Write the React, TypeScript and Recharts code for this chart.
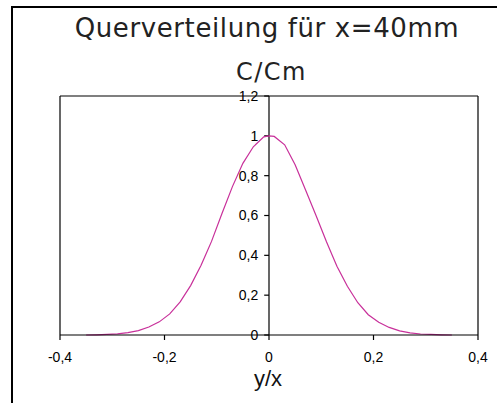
import React from 'react';
import { LineChart, Line, XAxis, YAxis, ReferenceLine } from 'recharts';

const xValues = [-0.35, -0.33, -0.31, -0.29, -0.27, -0.25, -0.23, -0.21, -0.19, -0.17, -0.15, -0.13, -0.11, -0.09, -0.07, -0.05, -0.03, -0.01, 0, 0.01, 0.03, 0.05, 0.07, 0.09, 0.11, 0.13, 0.15, 0.17, 0.19, 0.21, 0.23, 0.25, 0.27, 0.29, 0.31, 0.33, 0.35];
const cValues = [0, 0.001, 0.003, 0.006, 0.012, 0.022, 0.04, 0.066, 0.106, 0.166, 0.248, 0.35, 0.47, 0.61, 0.745, 0.862, 0.945, 0.995, 1.0, 0.997, 0.955, 0.855, 0.728, 0.6, 0.468, 0.345, 0.245, 0.162, 0.102, 0.064, 0.038, 0.021, 0.011, 0.005, 0.003, 0.001, 0];
const xTicks = [-0.4, -0.2, 0, 0.2, 0.4];
const yTicks = [0, 0.2, 0.4, 0.6, 0.8, 1, 1.2];
const titleText = 'Querverteilung für x=40mm';
const yLabelText = 'C/Cm';
const xLabelText = 'y/x';

const data = xValues.map((x, i) => ({ x, c: cValues[i] }));
const fmt = (v: number) => String(v).replace('.', ',');
const tickFont = "'Liberation Sans', Arial, sans-serif";
const titleFont = "'DejaVu Sans', sans-serif";
const TICK_LEN = 0.0092;

export default function App() {
  return (
    <div style={{ position: 'absolute', left: 0, top: 0, width: 497, height: 403, background: '#fff' }}>
      <div style={{ position: 'absolute', left: 11, top: 6, width: 486, height: 397, borderLeft: '2px solid #000', borderTop: '2px solid #000', boxSizing: 'border-box' }} />
      <div style={{ position: 'absolute', left: 0, width: 534, top: 11, textAlign: 'center', fontFamily: titleFont, fontWeight: 400, fontSize: 26, letterSpacing: 0.6, lineHeight: '34px', color: '#222' }}>{titleText}</div>
      <div style={{ position: 'absolute', left: 0, width: 543, top: 57, textAlign: 'center', fontFamily: titleFont, fontWeight: 400, fontSize: 24, letterSpacing: 1.5, lineHeight: '30px', color: '#222' }}>{yLabelText}</div>
      <div style={{ position: 'absolute', left: 0, width: 536, top: 368, textAlign: 'center', fontFamily: tickFont, fontSize: 22, lineHeight: '22px', color: '#111' }}>{xLabelText}</div>
      <div style={{ position: 'absolute', left: 0, top: 0 }}>
        <LineChart width={497} height={403} data={data} margin={{ top: 96, right: 19, left: 60, bottom: 38 }}>
          <XAxis
            dataKey="x"
            type="number"
            domain={[-0.4, 0.4]}
            ticks={xTicks}
            tickFormatter={fmt}
            height={30}
            axisLine={{ stroke: '#000', strokeWidth: 1.2 }}
            tickLine={{ stroke: '#000', strokeWidth: 1.2 }}
            tickSize={5}
            tickMargin={12}
            tick={{ fill: '#000', fontSize: 14, fontFamily: tickFont }}
            interval={0}
          />
          <YAxis type="number" domain={[0, 1.2]} ticks={yTicks} hide width={0} />
          <ReferenceLine y={1.2} stroke="#000" strokeWidth={1.2} />
          <ReferenceLine x={-0.4} stroke="#000" strokeWidth={1.2} />
          <ReferenceLine x={0.4} stroke="#000" strokeWidth={1.2} />
          <ReferenceLine x={0} stroke="#000" strokeWidth={1.2} />
          {yTicks.map((v) => (
            <ReferenceLine
              key={v}
              segment={[{ x: -TICK_LEN, y: v }, { x: 0, y: v }]}
              stroke="#000"
              strokeWidth={1.2}
              label={{ value: fmt(v), position: 'left', offset: 6, fill: '#000', fontSize: 14, fontFamily: tickFont }}
            />
          ))}
          <Line type="linear" dataKey="c" stroke="#c8309a" strokeWidth={1.2} dot={false} isAnimationActive={false} />
        </LineChart>
      </div>
    </div>
  );
}
